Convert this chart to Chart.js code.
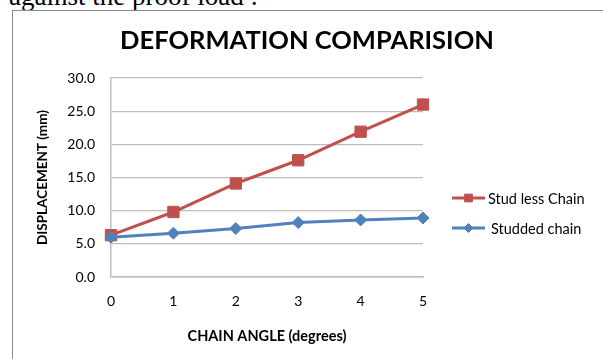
<!DOCTYPE html>
<html>
<head>
<meta charset="utf-8">
<script src="https://cdn.jsdelivr.net/npm/chart.js@4/dist/chart.umd.min.js"></script>
<style>
  html, body { margin: 0; padding: 0; background: #fff; }
  body { width: 603px; height: 359px; position: relative; overflow: hidden; }
  #lead { position: absolute; left: 9px; top: -17px; font: 27px/27px "Liberation Serif", "Times New Roman", serif; color: #000; white-space: nowrap; }
  #frame { position: absolute; left: 12px; top: 10px; width: 700px; height: 500px; border: 1.5px solid #8a8a8a; box-sizing: border-box; }
  #wrap { position: absolute; left: 0; top: 0; width: 603px; height: 359px; }
</style>
</head>
<body>
<div id="lead">against the proof load :</div>
<div id="frame"></div>
<div id="wrap"><canvas id="c" width="603" height="359"></canvas></div>
<script>
// Chain angle in degrees (x) and measured displacement in mm
const angles = [0, 1, 2, 3, 4, 5];
const studLess = [6.3, 9.8, 14.1, 17.6, 21.9, 26.0];
const studded = [6.0, 6.6, 7.3, 8.2, 8.6, 8.9];
const yTicks = [0, 5, 10, 15, 20, 25, 30];

const chartTitle = 'DEFORMATION COMPARISION';
const xTitle = 'CHAIN ANGLE (degrees)';
const yTitle = 'DISPLACEMENT (mm)';

const RED = '#C0504D';
const BLUE = '#4F81BD';
const FONT = 'Lato, "Open Sans", sans-serif';

function pts(values) {
  return angles.map((a, i) => ({ x: a, y: values[i] }));
}

// Title and line-with-marker legend drawn on the canvas
const decorations = {
  id: 'decorations',
  afterDraw(chart) {
    const ctx = chart.ctx;
    ctx.save();
    ctx.fillStyle = '#000';
    ctx.font = 'bold 25.5px ' + FONT;
    ctx.textAlign = 'center';
    ctx.textBaseline = 'middle';
    ctx.fillText(chartTitle, 307, 41);

    const rows = [
      { ds: chart.data.datasets[1], y: 198, tx: 488 },
      { ds: chart.data.datasets[0], y: 228, tx: 491 }
    ];
    ctx.font = '14.5px ' + FONT;
    ctx.textAlign = 'left';
    rows.forEach(r => {
      ctx.strokeStyle = r.ds.borderColor;
      ctx.fillStyle = r.ds.borderColor;
      ctx.lineWidth = 3;
      ctx.beginPath();
      ctx.moveTo(452, r.y);
      ctx.lineTo(485, r.y);
      ctx.stroke();
      ctx.lineWidth = 1;
      Chart.helpers.drawPoint(ctx, {
        pointStyle: r.ds.pointStyle,
        radius: r.ds.pointStyle === 'rect' ? 5.5 : 4.5,
        borderWidth: 1,
        rotation: 0
      }, 468.5, r.y);
      ctx.fillStyle = '#000';
      ctx.fillText(r.ds.label, r.tx, r.y + 1);
    });
    ctx.restore();
  }
};

new Chart(document.getElementById('c'), {
  type: 'line',
  data: {
    datasets: [
      {
        label: 'Studded chain',
        data: pts(studded),
        borderColor: BLUE,
        backgroundColor: BLUE,
        borderWidth: 3,
        pointStyle: 'rectRot',
        pointRadius: 6,
        pointBorderWidth: 1,
        pointBackgroundColor: BLUE,
        pointBorderColor: BLUE,
        order: 0,
        clip: false
      },
      {
        label: 'Stud less Chain',
        data: pts(studLess),
        borderColor: RED,
        backgroundColor: RED,
        borderWidth: 3,
        pointStyle: 'rect',
        pointRadius: 8,
        pointBorderWidth: 1,
        pointBackgroundColor: RED,
        pointBorderColor: RED,
        order: 1,
        clip: false
      }
    ]
  },
  options: {
    responsive: false,
    animation: false,
    devicePixelRatio: 1,
    layout: { padding: { left: 14, top: 78, right: 180, bottom: 0 } },
    plugins: {
      legend: { display: false },
      tooltip: { enabled: false },
      title: { display: false }
    },
    scales: {
      x: {
        type: 'linear',
        min: 0,
        max: 5,
        afterFit(scale) { scale.height = 82; },
        afterBuildTicks(scale) { scale.ticks = angles.map(v => ({ value: v })); },
        grid: { display: false, drawTicks: false },
        border: { display: true, color: '#bdbdbd', width: 1.5 },
        ticks: { padding: 16, color: '#000', font: { family: FONT, size: 14 } },
        title: {
          display: true,
          text: xTitle,
          color: '#000',
          font: { family: FONT, size: 14.5, weight: 'bold' },
          padding: { top: 0, bottom: 14 }
        }
      },
      y: {
        min: 0,
        max: 30,
        afterFit(scale) { scale.width = 97; },
        afterBuildTicks(scale) { scale.ticks = yTicks.map(v => ({ value: v })); },
        grid: { color: '#bdbdbd', lineWidth: 1.2, drawTicks: false },
        border: { display: true, color: '#bdbdbd', width: 1.5 },
        ticks: {
          padding: 16,
          color: '#000',
          font: { family: FONT, size: 14 },
          callback: v => Number(v).toFixed(1)
        },
        title: {
          display: true,
          text: yTitle,
          color: '#000',
          font: { family: FONT, size: 13.5, weight: 'bold' },
          padding: { top: 21, bottom: 0 }
        }
      }
    }
  },
  plugins: [decorations]
});
</script>
</body>
</html>
